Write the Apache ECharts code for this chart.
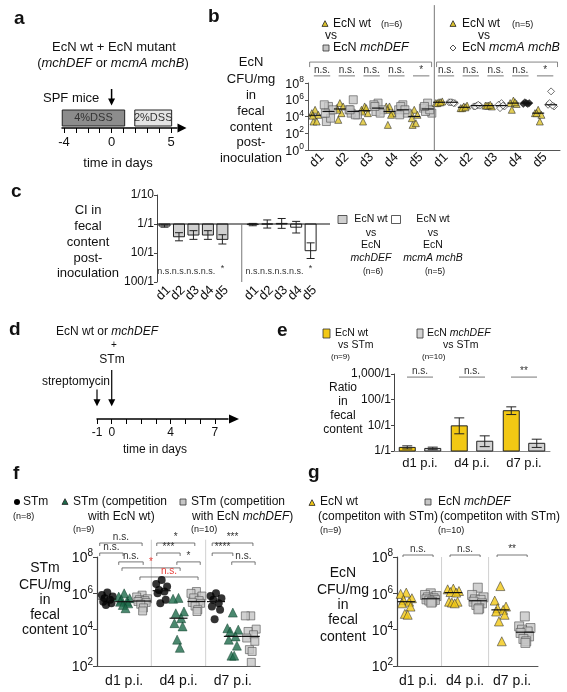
<!DOCTYPE html>
<html><head><meta charset="utf-8">
<script src="https://cdn.jsdelivr.net/npm/echarts@6.0.0/dist/echarts.min.js"></script>
<style>html,body{margin:0;padding:0;background:#fff;}#chart{width:567px;height:692px;}</style>
</head><body><div id="chart"></div>
<script>
// ======================= DATA =======================
// Panel a - DSS schedule (days)
const aPhaseLabels = ['4%DSS', '2%DSS'];
const aPhaseStart = [-4.15, 1.95];
const aPhaseEnd = [1.1, 5.05];
const aInoculationDay = 0;
const aTickDays = [-4, -3, -2, -1, 0, 1, 2, 3, 4, 5];
const aLabelDays = [-4, 0, 5];

// Panel b - EcN CFU/mg in feces (log10), days d1..d5
const bDays = ['d1', 'd2', 'd3', 'd4', 'd5'];
const bWtVsMchDEF = [[4.8,4.4,4.2,3.4,3.4,4.1],[5.6,5.0,5.2,3.6,4.4,4.8],[5.2,4.8,4.4,3.4,5.0,4.6],[5.2,5.2,4.4,3.0,4.2,4.8],[4.8,4.4,4.2,3.0,3.2,3.8]];
const bMchDEF = [[5.2,5.4,4.8,3.4,3.8,4.4],[6.0,4.8,4.2,4.4,4.2,4.8],[5.6,5.4,4.8,4.6,4.4,5.2],[5.4,4.8,4.4,5.2,4.8,4.2],[5.6,5.0,4.4,4.6,4.8,5.2]];
const bWtVsMcmAB = [[5.7,5.6,5.8,5.6,5.7],[5.2,5.0,5.3,5.0,5.1],[5.3,5.3,5.2,5.3,5.4],[5.9,5.6,5.5,4.8,5.7],[4.8,4.4,4.2,4.4,3.4]];
const bMcmAmchB = [[5.7,5.7,5.6,5.7,5.6],[5.3,5.2,5.3,5.2,5.4],[5.6,5.4,5.2,5.0,5.3],[5.6,5.5,5.6,5.7,5.5],[7.0,5.4,5.2,5.6,5.3]];
const bSigLeft = ['n.s.','n.s.','n.s.','n.s.','*'];
const bSigRight = ['n.s.','n.s.','n.s.','n.s.','*'];

// Panel c - competitive index (log10, 1/1 = 0, downward = wt wins)
const cDays = ['d1','d2','d3','d4','d5'];
const cTickLabels = ['1/10','1/1','10/1','100/1'];
const cMchDEFMean = [0.07,0.44,0.38,0.38,0.53];
const cMchDEFErr = [0.04,0.14,0.15,0.15,0.16];
const cMcmABMean = [0.02,0.0,-0.02,0.11,0.92];
const cMcmABErr = [0.04,0.14,0.17,0.2,0.27];
const cSigLeft = ['n.s.','n.s.','n.s.','n.s.','*'];
const cSigRight = ['n.s.','n.s.','n.s.','n.s.','*'];

// Panel d - streptomycin model schedule (days)
const dTickDays = [-1,0,1,2,3,4,5,6,7];
const dLabelDays = [-1,0,4,7];
const dStreptomycinDay = -1;
const dInfectionDay = 0;

// Panel e - ratio EcN/STm (log10)
const eCats = ['d1 p.i.','d4 p.i.','d7 p.i.'];
const eTickLabels = ['1/1','10/1','100/1','1,000/1'];
const eWtMean = [0.14,0.98,1.57];
const eWtErr = [0.06,0.31,0.15];
const eMchMean = [0.1,0.38,0.3];
const eMchErr = [0.05,0.21,0.16];
const eSig = ['n.s.','n.s.','**'];

// Panel f - STm CFU/mg (log10)
const fCats = ['d1 p.i.','d4 p.i.','d7 p.i.'];
const fSTm = [[6.04,5.91,5.82,5.73,5.64,5.54,5.45,5.36],[6.74,6.52,6.37,6.19,6.1,6.0,5.64,5.45],[6.0,5.85,5.73,5.64,5.45,5.27,5.09,4.58]];
const fWithEcNwt = [[6.0,5.82,5.73,5.64,5.54,5.54,5.45,5.36,5.18],[5.75,5.7,5.0,4.9,4.63,4.36,4.18,3.45,3.0],[4.94,4.08,4.0,3.9,3.63,3.45,3.12,2.57,2.57]];
const fWithMchDEF = [[5.9,5.8,5.7,5.65,5.6,5.55,5.5,5.4,5.2,5.03],[6.1,6.0,5.85,5.75,5.6,5.5,5.45,5.3,5.1,5.0],[4.76,4.76,4.03,3.9,3.72,3.54,3.36,2.9,2.8,2.2]];

// Panel g - EcN CFU/mg (log10)
const gCats = ['d1 p.i.','d4 p.i.','d7 p.i.'];
const gEcNwt = [[6.04,5.97,5.73,5.64,5.54,5.45,5.27,4.87,4.82],[6.26,6.22,6.13,6.07,6.04,5.54,5.54,5.49,5.45],[6.4,5.6,5.27,5.18,5.09,5.0,4.82,4.45,3.36]];
const gMchDEF = [[6.0,5.91,5.85,5.78,5.73,5.67,5.64,5.6,5.54,5.49],[6.31,5.91,5.78,5.67,5.64,5.54,5.45,5.36,5.18,5.12],[4.73,4.18,4.09,4.0,3.9,3.82,3.63,3.49,3.36,3.27]];
const gSig = ['n.s.','n.s.','**'];

// ======================= LAYOUT / STYLE =======================
const FONT = '"Liberation Sans", Arial, Helvetica, sans-serif';
const BLACK = '#111';
const YEL_B = '#dcc22c', YEL = '#f2c814', GRAY = '#c6c6c6', GREEN = '#1d6a4a', RED = '#e8403a';
const JIT = [0, -1, 1, -0.5, 0.5, -0.75, 0.75, -0.25, 0.25, 0.1];

function median(a){const s=a.slice().sort((x,y)=>x-y);const n=s.length;return n%2?s[(n-1)/2]:(s[n/2-1]+s[n/2])/2;}
function pts(groups, posFn, off, spread){const o=[];groups.forEach((vals,g)=>vals.forEach((v,i)=>o.push([posFn(g)+off+JIT[i%JIT.length]*spread,v])));return o;}
function meds(groups, posFn, off){return groups.map((vals,g)=>[posFn(g)+off, median(vals)]);}

function T(x,y,text,fs,o){o=o||{};const al=o.align||'left',va=o.va||'middle';
  const st={text:text,fontSize:fs,fontFamily:FONT,fill:o.color||BLACK,fontWeight:o.bold?'bold':'normal',fontStyle:o.italic?'italic':'normal',align:al,textAlign:al,verticalAlign:va,textVerticalAlign:va};
  if(o.rich)st.rich=o.rich; return {type:'text',x:x,y:y,silent:true,style:st};}
function IR(fs){return {i:{fontStyle:'italic',fontSize:fs,fontFamily:FONT,fill:BLACK},n:{fontSize:fs,fontFamily:FONT,fill:BLACK}};}
function tri(cx,cy,s,fill){return {type:'polygon',silent:true,shape:{points:[[cx,cy-s*0.55],[cx+s*0.5,cy+s*0.4],[cx-s*0.5,cy+s*0.4]]},style:{fill:fill,stroke:'#222',lineWidth:0.8}};}
function box(cx,cy,w,h,fill){return {type:'rect',silent:true,shape:{x:cx-w/2,y:cy-h/2,width:w,height:h},style:{fill:fill,stroke:'#333',lineWidth:0.8}};}
function dia(cx,cy,s){return {type:'polygon',silent:true,shape:{points:[[cx,cy-s/2],[cx+s/2,cy],[cx,cy+s/2],[cx-s/2,cy]]},style:{fill:'#fff',stroke:'#222',lineWidth:0.8}};}
function circ(cx,cy,r,fill){return {type:'circle',silent:true,shape:{cx:cx,cy:cy,r:r},style:{fill:fill}};}
function lines(x,ys,arr,fs,o){return arr.map((t,i)=>T(x,ys[i],t,fs,Object.assign({align:'center'},o||{})));}

function logLabel(fs,sfs){return {formatter:v=>'{b|10}{s|'+v+'}',margin:4,showMinLabel:true,showMaxLabel:true,hideOverlap:false,
  rich:{b:{fontSize:fs,fontFamily:FONT,color:BLACK,lineHeight:fs+3,verticalAlign:'bottom'},s:{fontSize:sfs,fontFamily:FONT,color:BLACK,lineHeight:sfs,verticalAlign:'top'}}};}

function ctext(x,y,text,fs,col,al,va){return {type:'text',x:x,y:y,style:{text:text,fontSize:fs,fontFamily:FONT,fill:col,align:al,textAlign:al,verticalAlign:va,textVerticalAlign:va}};}

// generic annotation series (brackets, lines, texts) in data units
function annot(gi, items, z){
  return {type:'custom',xAxisIndex:gi,yAxisIndex:gi,clip:false,silent:true,z:z||4,
    data: items.map(it=>[it.x!==undefined?it.x:it.x1, it.y!==undefined?it.y:it.y1]),
    renderItem:(p,api)=>{
      const it=items[p.dataIndex]; const col=it.color||'#555';
      if(it.kind==='bracket'){
        const p1=api.coord([it.x1,it.y]),p2=api.coord([it.x2,it.y]);const t=it.tick||0;
        const ch=[{type:'polyline',shape:{points:[[p1[0],p1[1]+t],[p1[0],p1[1]],[p2[0],p2[1]],[p2[0],p2[1]+t]]},style:{stroke:col,lineWidth:it.lw||0.8,fill:null}}];
        if(it.label)ch.push(ctext((p1[0]+p2[0])/2,p1[1]-(it.gap||0.5),it.label,it.fs||10,it.labelColor||'#333','center','bottom'));
        return {type:'group',children:ch};
      }
      if(it.kind==='vline'){const a=api.coord([it.x,it.y1]),b=api.coord([it.x,it.y2]);
        return {type:'line',shape:{x1:a[0],y1:a[1],x2:b[0],y2:b[1]},style:{stroke:col,lineWidth:it.lw||1}};}
      if(it.kind==='hline'){const a=api.coord([it.x1,it.y]),b=api.coord([it.x2,it.y]);
        return {type:'line',shape:{x1:a[0],y1:a[1],x2:b[0],y2:b[1]},style:{stroke:col,lineWidth:it.lw||1}};}
      if(it.kind==='text'){const a=api.coord([it.x,it.y]);return ctext(a[0],a[1],it.label,it.fs||10,it.color||'#333','center','middle');}
      if(it.kind==='rlabel'){const a=api.coord([it.x,it.y]);const t=ctext(a[0]+4,a[1]+6,it.label,it.fs||13,BLACK,'right','middle');t.rotation=Math.PI/4;return t;}
      return null;
    }};
}
function medianSeries(gi, items, half, col){
  return {type:'custom',xAxisIndex:gi,yAxisIndex:gi,silent:true,z:6,data:items,
    renderItem:(p,api)=>{const c=api.coord([api.value(0),api.value(1)]);
      return {type:'line',shape:{x1:c[0]-half,y1:c[1],x2:c[0]+half,y2:c[1]},style:{stroke:col||'#111',lineWidth:1.2}};}};
}
function arrowEl(top,bot,hw,hl,lw){return {type:'group',children:[
  {type:'line',shape:{x1:top[0],y1:top[1],x2:bot[0],y2:bot[1]-hl+1},style:{stroke:'#000',lineWidth:lw}},
  {type:'polygon',shape:{points:[[bot[0]-hw,bot[1]-hl],[bot[0]+hw,bot[1]-hl],[bot[0],bot[1]]]},style:{fill:'#000'}}]};}

const noSplit = {show:false};
const AX = (c,w)=>({show:true,onZero:false,lineStyle:{color:c||'#333',width:w||1}});

// positions
const bPosL = g=>g+1, bPosR = g=>g+6;
const cPosL = g=>g+1, cPosR = g=>g+7.1;
const catPos = g=>g+1;

// ---- panel c bar items
const cBars = [];
cDays.forEach((d,i)=>cBars.push({x:cPosL(i),v:cMchDEFMean[i],e:cMchDEFErr[i],fill:'#d0d0d0'}));
cDays.forEach((d,i)=>cBars.push({x:cPosR(i),v:cMcmABMean[i],e:cMcmABErr[i],fill:'#ffffff'}));
const cSigItems = [];
cDays.forEach((d,i)=>{cSigItems.push({kind:'text',x:cPosL(i),y:cSigLeft[i]==='*'?1.55:1.65,label:cSigLeft[i],fs:9});
                     cSigItems.push({kind:'text',x:cPosR(i),y:cSigRight[i]==='*'?1.55:1.65,label:cSigRight[i],fs:9});
                     cSigItems.push({kind:'rlabel',x:cPosL(i),y:2,label:d,fs:13});
                     cSigItems.push({kind:'rlabel',x:cPosR(i),y:2,label:d,fs:13});});
cSigItems.push({kind:'hline',x1:0.48,x2:12.44,y:0,color:'#111',lw:1.2});
cSigItems.push({kind:'vline',x:6.34,y1:0,y2:2,color:'#777',lw:1});

// ---- panel e bar items
const eBars = [];
eCats.forEach((c,i)=>{eBars.push({cat:i,side:-1,v:eWtMean[i],e:eWtErr[i],fill:YEL});eBars.push({cat:i,side:1,v:eMchMean[i],e:eMchErr[i],fill:'#d3d3d3'});});

// ---- b annotations
const bAnn = [
  {kind:'bracket',x1:0.5,x2:5.42,y:10.5,tick:5,color:'#666'},
  {kind:'bracket',x1:5.62,x2:10.5,y:10.5,tick:5,color:'#666'},
  {kind:'vline',x:5.53,y1:0,y2:17.3,color:'#777',lw:1}
];
bDays.forEach((d,i)=>{bAnn.push({kind:'bracket',x1:bPosL(i)-0.33,x2:bPosL(i)+0.33,y:8.85,label:bSigLeft[i],fs:10,color:'#555'});
  bAnn.push({kind:'bracket',x1:bPosR(i)-0.33,x2:bPosR(i)+0.33,y:8.85,label:bSigRight[i],fs:10,color:'#555'});});

// ---- f annotations
const fAnn = [
  {kind:'vline',x:1.5,y1:2,y2:8.95,color:'#d0d0d0'},{kind:'vline',x:2.5,y1:2,y2:8.95,color:'#d0d0d0'},
  {kind:'bracket',x1:0.55,x2:1.33,y:8.77,label:'n.s.',tick:3},
  {kind:'bracket',x1:0.55,x2:0.98,y:8.22,label:'n.s.',tick:3},
  {kind:'bracket',x1:0.9,x2:1.35,y:7.73,label:'n.s.',tick:3},
  {kind:'bracket',x1:0.96,x2:2.03,y:7.4,label:'*',labelColor:RED,tick:3},
  {kind:'bracket',x1:1.29,x2:2.36,y:6.9,label:'n.s.',labelColor:RED,tick:3},
  {kind:'bracket',x1:1.6,x2:2.3,y:8.77,label:'*',tick:3},
  {kind:'bracket',x1:1.6,x2:2.03,y:8.22,label:'***',tick:3},
  {kind:'bracket',x1:1.97,x2:2.4,y:7.73,label:'*',tick:3},
  {kind:'bracket',x1:2.62,x2:3.37,y:8.77,label:'***',tick:3},
  {kind:'bracket',x1:2.62,x2:3.0,y:8.22,label:'****',tick:3},
  {kind:'bracket',x1:2.98,x2:3.41,y:7.73,label:'n.s.',tick:3}
];
// ---- g annotations
const gAnn = [{kind:'vline',x:1.5,y1:2,y2:8,color:'#d0d0d0'},{kind:'vline',x:2.5,y1:2,y2:8,color:'#d0d0d0'}];
gCats.forEach((c,i)=>gAnn.push({kind:'bracket',x1:catPos(i)-0.32,x2:catPos(i)+0.32,y:8.11,label:gSig[i],tick:2}));

// ---- b scatter with per-point styling
const bMcmData = [];
bMcmAmchB.forEach((vals,g)=>vals.forEach((v,i)=>{const it={value:[bPosR(g)+0.24+JIT[i]*0.12,v]}; if(g===3) it.itemStyle={color:'#111'}; bMcmData.push(it);}));

// ======================= GRAPHIC (texts / legends) =======================
const G = [];
[['a',14,19],['b',208,17],['c',11,192],['d',9,330],['e',277,331],['f',13,474],['g',308,473]].forEach(l=>G.push(T(l[1],l[2],l[0],19,{bold:true})));
// a
G.push(T(114,47,'EcN wt + EcN mutant',13,{align:'center'}));
G.push(T(113,63,'{n|(}{i|mchDEF}{n| or }{i|mcmA mchB}{n|)}',13,{align:'center',rich:IR(13)}));
G.push(T(43,98,'SPF mice',13));
G.push(T(118,163,'time in days',13,{align:'center'}));
// b legend + title
G.push(tri(325,24,6,YEL_B)); G.push(T(333,24,'EcN wt',12)); G.push(T(381,25,'(n=6)',9));
G.push(T(331,36,'vs',12,{align:'center'}));
G.push(box(326,48,6,6,GRAY)); G.push(T(333,48,'{n|EcN }{i|mchDEF}',12.5,{rich:IR(12.5)}));
G.push(tri(453,24,6,YEL_B)); G.push(T(462,24,'EcN wt',12)); G.push(T(512,25,'(n=5)',9));
G.push(T(484,36,'vs',12,{align:'center'}));
G.push(dia(453,48,6)); G.push(T(462,48,'{n|EcN }{i|mcmA mchB}',12.5,{rich:IR(12.5)}));
G.push(...lines(251,[62,79,95,111,127,142,158],['EcN','CFU/mg','in','fecal','content','post-','inoculation'],13));
// c title + legend
G.push(...lines(88,[210,226,242,258,273],['CI in','fecal','content','post-','inoculation'],13));
G.push(box(342.5,219.5,9,8,'#d0d0d0'));
G.push(...lines(371,[219,233,245,258],['EcN wt','vs','EcN','{i|mchDEF}'],10.5,{rich:IR(10.5)}));
G.push(T(373,272,'(n=6)',8.5,{align:'center'}));
G.push(box(396,219.5,9,8,'#fff'));
G.push(...lines(433,[219,233,245,258],['EcN wt','vs','EcN','{i|mcmA mchB}'],10.5,{rich:IR(10.5)}));
G.push(T(435,272,'(n=5)',8.5,{align:'center'}));
// d
G.push(T(107,332,'{n|EcN wt or }{i|mchDEF}',12,{align:'center',rich:IR(12)}));
G.push(T(114,345,'+',10,{align:'center'}));
G.push(T(112,360,'STm',12,{align:'center'}));
G.push(T(76,382,'streptomycin',12,{align:'center'}));
G.push(T(155,450,'time in days',12,{align:'center'}));
// e
G.push(box(326.5,333.5,7,9,YEL)); G.push(T(335,333,'EcN wt',10.5)); G.push(T(338,345,'vs STm',10.5)); G.push(T(331,357,'(n=9)',8));
G.push(box(420,333.5,6,9,'#d3d3d3')); G.push(T(427,333,'{n|EcN }{i|mchDEF}',10.5,{rich:IR(10.5)})); G.push(T(443,345,'vs STm',10.5)); G.push(T(422,357,'(n=10)',8));
G.push(...lines(343,[388,402,416,430],['Ratio','in','fecal','content'],12));
// f
G.push(circ(17,502,3,'#000')); G.push(T(23,502,'STm',12)); G.push(T(13,517,'(n=8)',9));
G.push(tri(65,502,6,GREEN)); G.push(T(73,502,'STm (competition',12)); G.push(T(88,517,'with EcN wt)',12)); G.push(T(73,530,'(n=9)',9));
G.push(box(183,502,6,6,GRAY)); G.push(T(191,502,'STm (competition',12)); G.push(T(192,517,'{n|with EcN }{i|mchDEF}{n|)}',12,{rich:IR(12)})); G.push(T(191,530,'(n=10)',9));
G.push(...lines(45,[568,585,600,615,630],['STm','CFU/mg','in','fecal','content'],14));
// g
G.push(tri(312,503,6,YEL)); G.push(T(320,502,'EcN wt',12)); G.push(T(318,517,'(competiton with STm)',12)); G.push(T(320,531,'(n=9)',9));
G.push(box(428,502,6,6,GRAY)); G.push(T(438,502,'{n|EcN }{i|mchDEF}',12,{rich:IR(12)})); G.push(T(440,517,'(competiton with STm)',12)); G.push(T(438,531,'(n=10)',9));
G.push(...lines(343,[573,590,605,620,637],['EcN','CFU/mg','in','fecal','content'],14));

// ======================= OPTION =======================
const lbl = (fs,extra)=>Object.assign({fontSize:fs,fontFamily:FONT,color:BLACK,showMinLabel:true,showMaxLabel:true,hideOverlap:false},extra||{});
const option = {
  animation:false,
  backgroundColor:'#fff',
  grid:[
    {left:62,top:108,width:115,height:20},
    {left:308,top:83,width:252,height:67},
    {left:157,top:195,width:173,height:87},
    {left:97,top:370,width:131,height:49},
    {left:394,top:374,width:156,height:77},
    {left:97,top:557,width:163,height:109},
    {left:397,top:557,width:141,height:109}
  ],
  xAxis:[
    {gridIndex:0,type:'value',min:-4.17,max:5.5,axisLine:Object.assign(AX('#000',1.5),{symbol:['none','triangle'],symbolSize:[9,9],symbolOffset:[0,5]}),
      axisTick:{show:true,customValues:aTickDays,length:5,lineStyle:{color:'#000',width:1}},axisLabel:lbl(13,{customValues:aLabelDays,margin:8}),splitLine:noSplit},
    {gridIndex:1,type:'value',min:0.434,max:10.6,axisLine:AX('#555'),axisTick:{show:false},
      axisLabel:lbl(13,{customValues:[1,2,3,4,5,6,7,8,9,10],formatter:v=>bDays[(Math.round(v)-1)%5],rotate:45,margin:5}),splitLine:noSplit},
    {gridIndex:2,type:'value',min:0.48,max:12.44,axisLine:{show:false,onZero:false},axisTick:{show:false},axisLabel:{show:false},splitLine:noSplit},
    {gridIndex:3,type:'value',min:-1,max:7.9,axisLine:Object.assign(AX('#000',1.5),{symbol:['none','triangle'],symbolSize:[9,10],symbolOffset:[0,6]}),
      axisTick:{show:true,customValues:dTickDays,length:5,lineStyle:{color:'#000',width:1}},axisLabel:lbl(12,{customValues:dLabelDays,margin:8}),splitLine:noSplit},
    {gridIndex:4,type:'category',data:eCats,axisLine:AX('#888'),axisTick:{show:false},axisLabel:lbl(13,{margin:6}),splitLine:noSplit},
    {gridIndex:5,type:'value',min:0.5,max:3.5,axisLine:AX('#555'),axisTick:{show:false},axisLabel:lbl(14,{customValues:[1,2,3],formatter:v=>fCats[Math.round(v)-1],margin:8}),splitLine:noSplit},
    {gridIndex:6,type:'value',min:0.553,max:3.55,axisLine:AX('#555'),axisTick:{show:false},axisLabel:lbl(14,{customValues:[1,2,3],formatter:v=>gCats[Math.round(v)-1],margin:8}),splitLine:noSplit}
  ],
  yAxis:[
    {gridIndex:0,type:'value',min:0,max:1,show:false},
    {gridIndex:1,type:'value',min:0,max:8,interval:2,axisLine:AX('#555'),axisTick:{show:true,length:3,lineStyle:{color:'#555'}},axisLabel:logLabel(12.5,8.5),splitLine:noSplit},
    {gridIndex:2,type:'value',inverse:true,min:-1,max:2,interval:1,axisLine:AX('#444'),axisTick:{show:true,length:3,lineStyle:{color:'#444'}},
      axisLabel:lbl(12,{formatter:v=>cTickLabels[Math.round(v)+1],margin:3}),splitLine:noSplit},
    {gridIndex:3,type:'value',min:0,max:1,show:false},
    {gridIndex:4,type:'value',min:0,max:3,interval:1,axisLine:AX('#444'),axisTick:{show:true,length:3,lineStyle:{color:'#444'}},
      axisLabel:lbl(12,{formatter:v=>eTickLabels[Math.round(v)],margin:3}),splitLine:noSplit},
    {gridIndex:5,type:'value',min:2,max:8,interval:2,axisLine:AX('#444',1.2),axisTick:{show:true,length:4,lineStyle:{color:'#444'}},axisLabel:logLabel(14,10),splitLine:noSplit},
    {gridIndex:6,type:'value',min:2,max:8,interval:2,axisLine:AX('#444',1.2),axisTick:{show:true,length:4,lineStyle:{color:'#444'}},axisLabel:logLabel(14,10),splitLine:noSplit}
  ],
  graphic:{elements:G},
  series:[
    {type:'custom',xAxisIndex:0,yAxisIndex:0,clip:false,silent:true,
      data:aPhaseLabels.map((l,i)=>[aPhaseStart[i],aPhaseEnd[i]]),
      renderItem:(p,api)=>{const i=p.dataIndex;const a=api.coord([aPhaseStart[i],0.9]),b=api.coord([aPhaseEnd[i],0.1]);
        return {type:'group',children:[{type:'rect',shape:{x:a[0],y:a[1],width:b[0]-a[0],height:b[1]-a[1]},style:{fill:i===0?'#8c8c8c':'#e4e4e4',stroke:'#222',lineWidth:1}},
          ctext((a[0]+b[0])/2,(a[1]+b[1])/2,aPhaseLabels[i],11,'#333','center','middle')]};}},
    {type:'custom',xAxisIndex:0,yAxisIndex:0,clip:false,silent:true,data:[[aInoculationDay,1.9]],
      renderItem:(p,api)=>arrowEl(api.coord([aInoculationDay,1.95]),api.coord([aInoculationDay,1.12]),3.5,7,1.5)},
    {type:'scatter',xAxisIndex:1,yAxisIndex:1,symbol:'triangle',symbolSize:7,itemStyle:{color:YEL_B,borderColor:'#222',borderWidth:0.7},data:pts(bWtVsMchDEF,bPosL,-0.28,0.13),z:3},
    {type:'scatter',xAxisIndex:1,yAxisIndex:1,symbol:'rect',symbolSize:8,itemStyle:{color:GRAY,borderColor:'#555',borderWidth:0.8},data:pts(bMchDEF,bPosL,0.26,0.17),z:3},
    {type:'scatter',xAxisIndex:1,yAxisIndex:1,symbol:'triangle',symbolSize:7,itemStyle:{color:YEL_B,borderColor:'#222',borderWidth:0.7},data:pts(bWtVsMcmAB,bPosR,-0.28,0.13),z:3},
    {type:'scatter',xAxisIndex:1,yAxisIndex:1,symbol:'diamond',symbolSize:[7,7],itemStyle:{color:'#fff',borderColor:'#222',borderWidth:0.8},data:bMcmData,z:3},
    medianSeries(1,[].concat(meds(bWtVsMchDEF,bPosL,-0.28),meds(bMchDEF,bPosL,0.26),meds(bWtVsMcmAB,bPosR,-0.28),meds(bMcmAmchB,bPosR,0.24)),6,'#111'),
    annot(1,bAnn),
    {type:'custom',xAxisIndex:2,yAxisIndex:2,clip:false,silent:true,z:3,data:cBars.map(b=>[b.x,b.v]),
      renderItem:(p,api)=>{const b=cBars[p.dataIndex];const base=api.coord([b.x,0]),top=api.coord([b.x,b.v]);
        const lo=api.coord([b.x,b.v-b.e]),hi=api.coord([b.x,b.v+b.e]);const w=11,cap=8;const s={stroke:'#222',lineWidth:1};
        return {type:'group',children:[
          {type:'rect',shape:{x:base[0]-w/2,y:Math.min(base[1],top[1]),width:w,height:Math.abs(top[1]-base[1])},style:{fill:b.fill,stroke:'#222',lineWidth:1}},
          {type:'line',shape:{x1:lo[0],y1:lo[1],x2:hi[0],y2:hi[1]},style:s},
          {type:'line',shape:{x1:lo[0]-cap/2,y1:lo[1],x2:lo[0]+cap/2,y2:lo[1]},style:s},
          {type:'line',shape:{x1:hi[0]-cap/2,y1:hi[1],x2:hi[0]+cap/2,y2:hi[1]},style:s}]};}},
    annot(2,cSigItems),
    {type:'custom',xAxisIndex:3,yAxisIndex:3,clip:false,silent:true,data:[[dStreptomycinDay,0.6],[dInfectionDay,1]],
      renderItem:(p,api)=>{const x=api.value(0),y=api.value(1);return arrowEl(api.coord([x,y]),api.coord([x,0.26]),3.5,7,1.2);}},
    {type:'custom',xAxisIndex:4,yAxisIndex:4,clip:false,silent:true,z:3,data:eBars.map(b=>[b.cat,b.v]),
      renderItem:(p,api)=>{const b=eBars[p.dataIndex];const cw=api.size([1,0])[0];const dx=b.side*cw*0.245;
        const base=api.coord([b.cat,0]),top=api.coord([b.cat,b.v]),lo=api.coord([b.cat,b.v-b.e]),hi=api.coord([b.cat,b.v+b.e]);
        const x=base[0]+dx,w=16,cap=10;const s={stroke:'#222',lineWidth:1};
        return {type:'group',children:[
          {type:'rect',shape:{x:x-w/2,y:top[1],width:w,height:base[1]-top[1]},style:{fill:b.fill,stroke:'#222',lineWidth:1}},
          {type:'line',shape:{x1:x,y1:lo[1],x2:x,y2:hi[1]},style:s},
          {type:'line',shape:{x1:x-cap/2,y1:lo[1],x2:x+cap/2,y2:lo[1]},style:s},
          {type:'line',shape:{x1:x-cap/2,y1:hi[1],x2:x+cap/2,y2:hi[1]},style:s}]};}},
    {type:'custom',xAxisIndex:4,yAxisIndex:4,clip:false,silent:true,data:eSig.map((s,i)=>[i,2.88]),
      renderItem:(p,api)=>{const i=p.dataIndex;const cw=api.size([1,0])[0];const c=api.coord([i,2.88]);
        return {type:'group',children:[{type:'line',shape:{x1:c[0]-cw*0.25,y1:c[1],x2:c[0]+cw*0.25,y2:c[1]},style:{stroke:'#555',lineWidth:0.8}},
          ctext(c[0],c[1]-0.5,eSig[i],10,'#333','center','bottom')]};}},
    annot(5,fAnn,2),
    {type:'scatter',xAxisIndex:5,yAxisIndex:5,symbol:'circle',symbolSize:8,itemStyle:{color:'#000'},data:pts(fSTm,catPos,-0.31,0.1),z:3},
    {type:'scatter',xAxisIndex:5,yAxisIndex:5,symbol:'triangle',symbolSize:9,itemStyle:{color:GREEN,borderColor:'#0d3a28',borderWidth:0.6},data:pts(fWithEcNwt,catPos,0,0.1),z:3},
    {type:'scatter',xAxisIndex:5,yAxisIndex:5,symbol:'rect',symbolSize:8,itemStyle:{color:GRAY,borderColor:'#555',borderWidth:0.8},data:pts(fWithMchDEF,catPos,0.33,0.1),z:3},
    medianSeries(5,[].concat(meds(fSTm,catPos,-0.31),meds(fWithEcNwt,catPos,0),meds(fWithMchDEF,catPos,0.33)),9,'#111'),
    annot(6,gAnn,2),
    {type:'scatter',xAxisIndex:6,yAxisIndex:6,symbol:'triangle',symbolSize:9,itemStyle:{color:YEL,borderColor:'#333',borderWidth:0.7},data:pts(gEcNwt,catPos,-0.25,0.12),z:3},
    {type:'scatter',xAxisIndex:6,yAxisIndex:6,symbol:'rect',symbolSize:9,itemStyle:{color:GRAY,borderColor:'#555',borderWidth:0.8},data:pts(gMchDEF,catPos,0.27,0.12),z:3},
    medianSeries(6,[].concat(meds(gEcNwt,catPos,-0.25),meds(gMchDEF,catPos,0.27)),9,'#111')
  ]
};
const chart = echarts.init(document.getElementById('chart'));
chart.setOption(option);
</script></body></html>
